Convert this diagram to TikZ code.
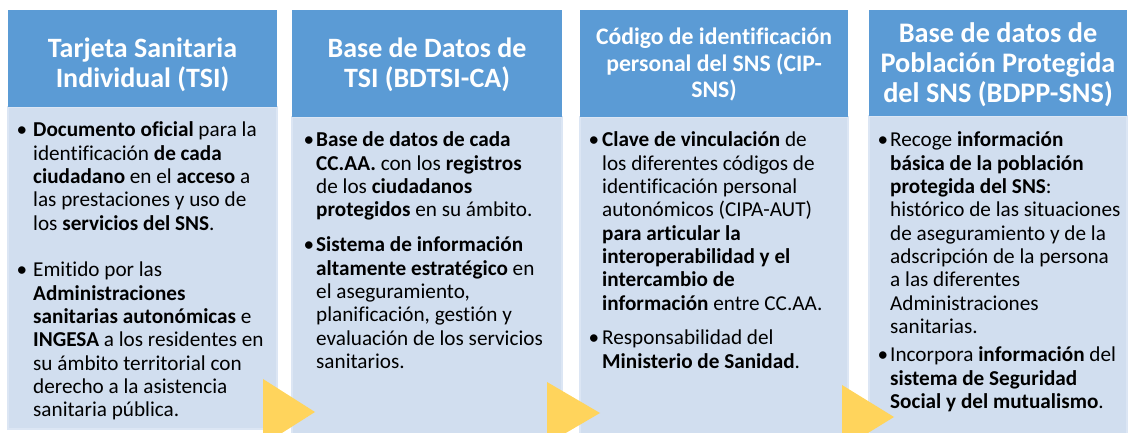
\documentclass[tikz,border=0pt]{standalone}
\usepackage{fontspec}
\setmainfont{Carlito}[Ligatures=NoCommon]
\definecolor{hblue}{HTML}{5B9BD5}
\definecolor{bblue}{HTML}{D1DEEF}
\definecolor{bedge}{HTML}{DCE6F4}
\definecolor{ygold}{HTML}{FFD45C}
\tikzset{
  hdr/.style={fill=hblue, draw=none},
  bodybox/.style={fill=bblue, draw=bedge, line width=2bp},
  htext/.style={text=white, font=\fontsize{28bp}{30.7bp}\selectfont\bfseries, align=center, anchor=base, inner sep=0pt},
  htextsm/.style={htext, font=\fontsize{23.7bp}{26.4bp}\selectfont\bfseries},
  htextmd/.style={htext, font=\fontsize{28.3bp}{29.8bp}\selectfont\bfseries},
  btext/.style={font=\fontsize{21.2bp}{23.3bp}\selectfont, align=left, anchor=base west, inner sep=0pt},
  bul/.style={font=\fontsize{21.2bp}{23.3bp}\selectfont, anchor=base, inner sep=0pt},
  arrowtri/.style={fill=ygold, draw=none}
}
\begin{document}
\begin{tikzpicture}[x=1bp,y=-1bp]
\useasboundingbox (0,0) rectangle (1128,433);
\clip (0,0) rectangle (1128,433);
% body boxes
\draw[bodybox] (8,107) rectangle (277,429);
\draw[bodybox] (292,117) rectangle (562,434);
\draw[bodybox] (580,117) rectangle (848,434);
\draw[bodybox] (869,116) rectangle (1127,434);
% header boxes
\fill[hdr] (8,10) rectangle (277,107);
\fill[hdr] (292,10) rectangle (562,117);
\fill[hdr] (580,10) rectangle (848,117);
\fill[hdr] (869,10) rectangle (1127,116);
% arrows
\fill[arrowtri] (263,379) -- (315,412) -- (263,445) -- cycle;
\fill[arrowtri] (547,382) -- (600,413) -- (547,444) -- cycle;
\fill[arrowtri] (842,385) -- (894,417) -- (842,449) -- cycle;
% header texts (anchored at last baseline)
\node[htext] (h1) at (142.5,88) {Tarjeta Sanitaria\\Individual (TSI)};
\node[htext] (h2) at (427,88) {Base de Datos de\\TSI (BDTSI-CA)};
\node[htextsm] (h3) at (714,97.7) {Código de identificación\\personal del SNS (CIP-\\SNS)};
\node[htextmd] (h4) at (998,102.5) {Base de datos de\\Población Protegida\\del SNS (BDPP-SNS)};
% column 1
\node[btext] (t1a) at (33,230.2) {\textbf{Documento oficial} para la\\identificación \textbf{de cada}\\\textbf{ciudadano} en el \textbf{acceso} a\\las prestaciones y uso de\\los \textbf{servicios del SNS}.};
\node[bul] (b1a) at (22,137) {•};
\node[btext] (t1b) at (33,416.8) {Emitido por las\\\textbf{Administraciones}\\\textbf{sanitarias autonómicas} e\\\textbf{INGESA} a los residentes en\\su ámbito territorial con\\derecho a la asistencia\\sanitaria pública.};
\node[bul] (b1b) at (22,277) {•};
% column 2
\node[btext] (t2a) at (316,216.9) {\textbf{Base de datos de cada}\\\textbf{CC.AA.} con los \textbf{registros}\\de los \textbf{ciudadanos}\\\textbf{protegidos} en su ámbito.};
\node[bul] (b2a) at (309,147) {•};
\node[btext] (t2b) at (316,368.5) {\textbf{Sistema de información}\\\textbf{altamente estratégico} en\\el aseguramiento,\\planificación, gestión y\\evaluación de los servicios\\sanitarios.};
\node[bul] (b2b) at (309,252) {•};
% column 3
\node[btext] (t3a) at (602,310.1) {\textbf{Clave de vinculación} de\\los diferentes códigos de\\identificación personal\\autonómicos (CIPA-AUT)\\\textbf{para articular la}\\\textbf{interoperabilidad y el}\\\textbf{intercambio de}\\\textbf{información} entre CC.AA.};
\node[bul] (b3a) at (594,147) {•};
\node[btext] (t3b) at (602,368.3) {Responsabilidad del\\\textbf{Ministerio de Sanidad}.};
\node[bul] (b3b) at (594,345) {•};
% column 4
\node[btext] (t4a) at (890,333.4) {Recoge \textbf{información}\\\textbf{básica de la población}\\\textbf{protegida del SNS}:\\histórico de las situaciones\\de aseguramiento y de la\\adscripción de la persona\\a las diferentes\\Administraciones\\sanitarias.};
\node[bul] (b4a) at (883,147) {•};
\node[btext] (t4b) at (890,408.6) {Incorpora \textbf{información} del\\\textbf{sistema de Seguridad}\\\textbf{Social y del mutualismo}.};
\node[bul] (b4b) at (883,362) {•};
\end{tikzpicture}
\end{document}
